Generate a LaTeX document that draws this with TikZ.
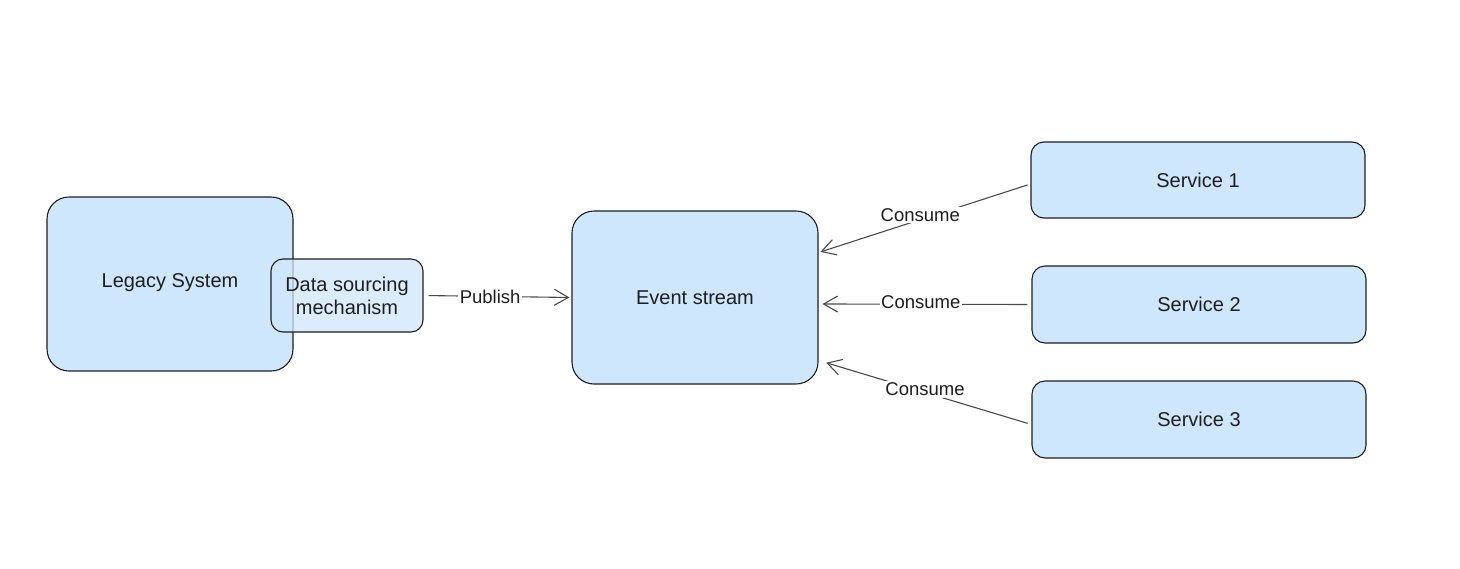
\documentclass[tikz,border=0pt]{standalone}
\usepackage{fontspec}
\setmainfont{Liberation Sans}
\usetikzlibrary{arrows.meta}
\definecolor{boxfill}{HTML}{CFE7FC}
\definecolor{ink}{HTML}{1E1E1E}
\definecolor{arrowink}{HTML}{4A4A4A}
\tikzset{
  box/.style={draw=ink, line width=1.1pt, fill=boxfill, rounded corners=#1,
    inner sep=0pt, align=center, font=\fontsize{20}{23}\selectfont, text=ink},
  box/.default=14pt,
  conn/.style={draw=arrowink, line width=1.1pt,
    -{Straight Barb[length=14pt,width=16pt,line width=1.1pt]}},
  lbl/.style={fill=white, inner sep=1.5pt, font=\fontsize{18.5}{21}\selectfont, text=ink}
}
\begin{document}
\begin{tikzpicture}[x=1pt,y=-1pt]
\useasboundingbox[fill=white] (0,0) rectangle (1460,568);
% nodes
\node[box=22pt, minimum width=246pt, minimum height=174pt] (legacy) at (170,284) {};
\node[text=ink, font=\fontsize{20}{23}\selectfont] (legacytxt) at (170,283) {Legacy System};
\node[box=12pt, minimum width=152pt, minimum height=73pt, fill opacity=0.75, text opacity=1] (data) at (347,295.5) {Data sourcing\\mechanism};
\node[box=22pt, minimum width=246pt, minimum height=173pt] (event) at (695,297.5) {Event stream};
\node[box=13pt, minimum width=334pt, minimum height=76pt] (s1) at (1198,180) {Service 1};
\node[box=13pt, minimum width=334pt, minimum height=77pt] (s2) at (1199,304.5) {Service 2};
\node[box=13pt, minimum width=334pt, minimum height=77pt] (s3) at (1199,419.5) {Service 3};
% connectors
\draw[conn, shorten <=5pt, shorten >=2pt] (data.east) -- node[lbl, pos=0.45] {Publish} (event.west);
\draw[conn, shorten <=3pt, shorten >=2pt] ([yshift=-4pt]s1.west) -- node[lbl, pos=0.52, yshift=5pt] {Consume} (event.20);
\draw[conn, shorten <=4pt, shorten >=4pt] (s2.west) -- node[lbl, pos=0.52, yshift=2pt] {Consume} (event.-3);
\draw[conn, shorten <=4pt, shorten >=8pt] ([yshift=-5pt]s3.west) -- node[lbl, pos=0.5, yshift=3pt] {Consume} (event.-27);
\end{tikzpicture}
\end{document}
